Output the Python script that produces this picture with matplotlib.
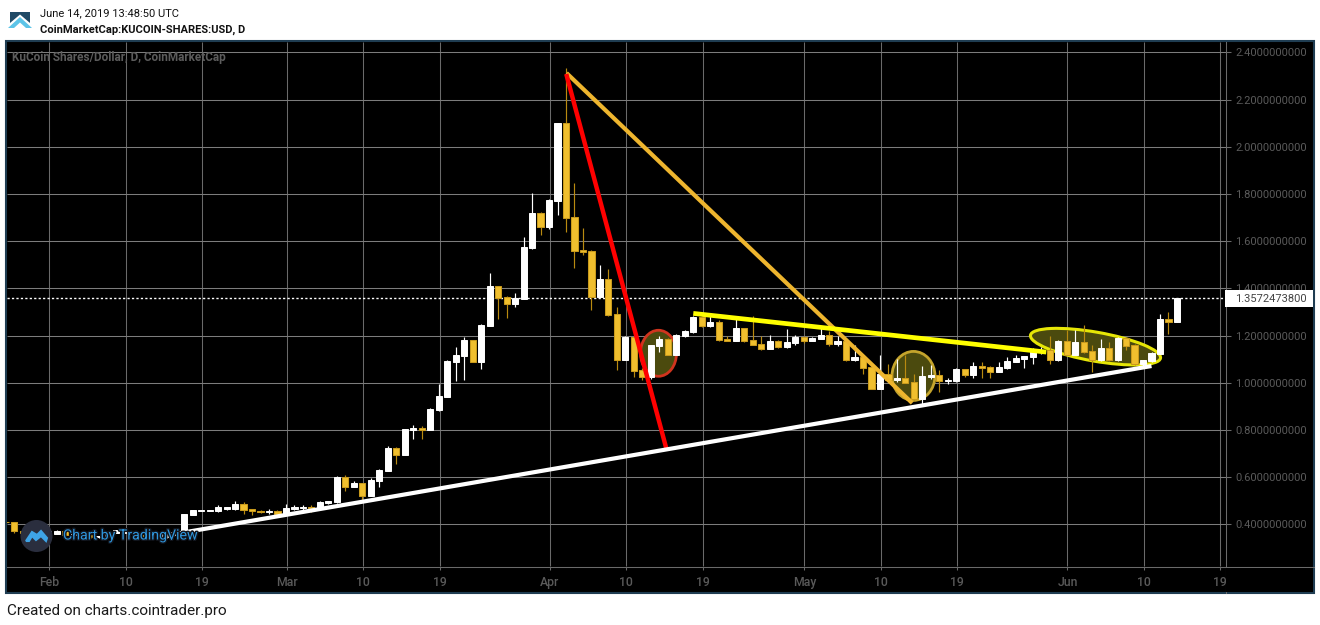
import matplotlib
matplotlib.use("Agg")
import matplotlib.pyplot as plt
import matplotlib.patheffects as pe
from matplotlib.patches import Ellipse, Rectangle, Polygon, Circle
from matplotlib.transforms import IdentityTransform

W, H = 1320, 625
plt.rcParams['font.family'] = ['Roboto', 'DejaVu Sans']

# ---- data: day number counted from Feb 1 2019, OHLC prices in USD
first_day = -5
opens = [.410,.408,.373,.362,.366,.362,.360,.372,.356,.359,.353,.345,.350,.365,.364,.370,.356,.350,.352,.345,.356,.369,.441,.458,.458,.456,.466,.465,.486,.463,.455,.451,.455,.442,.465,.469,.473,.464,.490,.495,.599,.558,.575,.520,.584,.626,.724,.694,.800,.808,.800,.885,.940,1.088,1.114,1.181,1.088,1.241,1.410,1.364,1.334,1.355,1.571,1.720,1.660,1.771,2.101,1.703,1.563,1.559,1.364,1.440,1.291,1.097,1.194,1.054,1.024,1.156,1.186,1.118,1.198,1.215,1.279,1.241,1.258,1.186,1.177,1.232,1.181,1.164,1.143,1.177,1.152,1.169,1.194,1.178,1.186,1.202,1.164,1.177,1.096,1.109,1.067,.974,1.037,1.012,1.020,1.003,.931,1.024,1.033,1.007,1.007,1.058,1.033,1.071,1.067,1.046,1.062,1.088,1.101,1.109,1.135,1.139,1.096,1.177,1.118,1.173,1.135,1.096,1.147,1.096,1.190,1.160,1.079,1.092,1.122,1.270,1.258]
highs = [.410,.408,.376,.368,.368,.374,.375,.374,.362,.360,.354,.351,.370,.377,.368,.371,.358,.360,.362,.362,.370,.445,.462,.461,.461,.483,.474,.499,.496,.463,.461,.465,.461,.485,.482,.481,.482,.500,.500,.605,.609,.584,.576,.596,.634,.732,.728,.806,.821,.817,.891,.995,1.097,1.152,1.194,1.183,1.247,1.465,1.412,1.368,1.380,1.618,1.804,1.722,1.777,2.103,2.334,1.847,1.656,1.561,1.499,1.482,1.321,1.198,1.196,1.063,1.162,1.198,1.188,1.207,1.224,1.283,1.281,1.292,1.266,1.198,1.283,1.234,1.283,1.198,1.202,1.181,1.228,1.202,1.198,1.194,1.232,1.219,1.198,1.179,1.160,1.111,1.069,1.118,1.079,1.101,1.118,1.037,1.071,1.075,1.054,1.020,1.062,1.060,1.088,1.088,1.069,1.088,1.109,1.118,1.115,1.147,1.152,1.198,1.181,1.224,1.224,1.245,1.160,1.185,1.173,1.194,1.194,1.164,1.098,1.130,1.292,1.300,1.3572]
lows = [.407,.365,.358,.358,.358,.360,.358,.352,.354,.352,.344,.344,.345,.364,.362,.360,.347,.347,.350,.343,.352,.366,.440,.457,.457,.452,.461,.460,.445,.441,.447,.444,.439,.439,.461,.458,.452,.462,.485,.490,.541,.556,.503,.518,.558,.624,.656,.692,.762,.762,.798,.880,.938,1.007,1.012,1.086,1.058,1.239,1.270,1.275,1.321,1.353,1.569,1.626,1.652,1.711,1.639,1.486,1.542,1.308,1.362,1.285,1.054,1.095,1.024,1.012,1.016,1.130,1.116,1.116,1.196,1.213,1.236,1.236,1.179,1.178,1.175,1.173,1.158,1.139,1.141,1.147,1.147,1.160,1.169,1.176,1.184,1.156,1.156,1.094,1.092,1.037,.972,.972,1.010,1.003,.997,.929,.906,1.016,.961,.995,1.005,1.024,1.020,1.020,1.020,1.044,1.060,1.086,1.062,1.079,1.122,1.079,1.094,1.116,1.116,1.128,1.046,1.094,1.094,1.092,1.139,1.077,1.071,1.090,1.120,1.207,1.256]
closes = [.408,.373,.362,.366,.362,.372,.372,.355,.360,.353,.346,.350,.365,.376,.368,.362,.350,.356,.358,.359,.367,.444,.461,.461,.460,.472,.472,.487,.462,.456,.451,.458,.444,.469,.473,.473,.471,.495,.499,.600,.558,.575,.520,.588,.630,.724,.694,.804,.808,.800,.889,.944,1.092,1.118,1.181,1.088,1.245,1.410,1.359,1.334,1.359,1.576,1.720,1.660,1.775,2.101,1.698,1.559,1.554,1.364,1.440,1.287,1.097,1.194,1.050,1.024,1.160,1.186,1.118,1.203,1.219,1.279,1.242,1.258,1.181,1.178,1.232,1.177,1.160,1.143,1.177,1.152,1.173,1.194,1.178,1.190,1.202,1.164,1.177,1.096,1.109,1.063,.974,1.037,1.012,1.020,.999,.931,1.029,1.033,1.007,1.012,1.058,1.033,1.071,1.062,1.046,1.067,1.092,1.105,1.113,1.139,1.139,1.096,1.177,1.118,1.173,1.130,1.096,1.147,1.096,1.190,1.156,1.079,1.096,1.126,1.270,1.258,1.3572]
last_price = 1.35724738

y_ticks = [.4,.6,.8,1.0,1.2,1.4,1.6,1.8,2.0,2.2,2.4]
x_ticks = [0,9,18,28,37,46,59,68,77,89,98,107,120,129,138]
x_labels = ['Feb','10','19','Mar','10','19','Apr','10','19','May','10','19','Jun','10','19']

# drawn annotations: trend lines as (day, price) pairs
white_line_days, white_line_prices = [13.14, 130.0], [.348, 1.071]
red_line_days, red_line_prices = [61.03, 72.84], [2.309, .719]
orange_line_days, orange_line_prices = [61.06, 101.8], [2.313, .914]
yellow_line_days, yellow_line_prices = [76.0, 117.6], [1.294, 1.130]
ellipse_centres = [(71.9, 1.125), (101.95, 1.029), (123.4, 1.153)]

UP, DOWN, DOWN_EDGE, WICK = '#ffffff', '#f0bf2e', '#c99a1c', '#b98a10'
GRID_H, GRID_V = '#7c7c7c', '#6a6a6a'
FRAME, TICKTXT = '#1f3d52', '#5a5a5a'

fig = plt.figure(figsize=(W/100, H/100), dpi=100, facecolor='white')

def px_axes(l, t, r, b):
    return [l/W, 1-b/H, (r-l)/W, (b-t)/H]

# page layer in pixel coordinates
bg = fig.add_axes([0, 0, 1, 1], zorder=0)
bg.set_xlim(0, W); bg.set_ylim(H, 0); bg.axis('off')
bg.add_patch(Rectangle((6, 41), 1308, 552, fc='black', ec=FRAME, lw=1.5))
bg.plot([7, 1313.5], [566.5, 566.5], color=GRID_V, lw=0.75)
bg.plot([1225.5, 1225.5], [42, 592.5], color=GRID_V, lw=0.75)
# header logo
bg.add_patch(Polygon([(10, 12), (30, 12), (30, 23), (20, 14.5), (10, 23)], fc='#1f4a66', ec='none'))
bg.add_patch(Polygon([(8, 28), (20, 17), (32, 28), (26, 28), (20, 22.5), (14, 28)], fc='#5cc4e8', ec='none'))

ax = fig.add_axes(px_axes(7, 42, 1225.5, 566), zorder=1)
ax.set_facecolor('none')
ax.set_xlim(-4.875, 138.72)
ax.set_ylim(.2232, 2.4445)
for s in ax.spines.values():
    s.set_visible(False)

tick_shift = 0.1
ax.set_xticks([t + tick_shift for t in x_ticks])
ax.set_xticklabels(x_labels, fontsize=8.8, color=TICKTXT, fontweight='medium')
ax.set_yticks(y_ticks)
ax.set_yticklabels([f'{t:.10f}' for t in y_ticks], fontsize=8.0, color=TICKTXT)
ax.yaxis.tick_right()
ax.tick_params(axis='x', length=3, width=0.75, color=GRID_V, pad=4.5)
ax.tick_params(axis='y', length=3.5, width=0.75, color=GRID_V, pad=3.5)
ax.grid(False)
ax.vlines([t + tick_shift for t in x_ticks], .2232, 2.4445, color=GRID_V, lw=0.75, zorder=1)
ax.hlines(y_ticks, -4.875, 138.72, color=GRID_H, lw=0.75, zorder=1)
ax.axhline(last_price, color='white', lw=1, dashes=(1.6, 1.6), zorder=2)

fig.canvas.draw()

def disp(pt):
    return ax.transData.transform(pt)

ell_styles = [
    (36, 46, 0, '#d0341e', 2.0),
    (43, 49, 0, '#c4a42c', 2.0),
    (132, 29, -10, '#e6e606', 2.2),
]
for centre, (w, h, ang, ec, lw) in zip(ellipse_centres, ell_styles):
    ax.add_patch(Ellipse(disp(centre), w, h, angle=ang, transform=IdentityTransform(),
                         fc='#4b4a0e', ec=ec, lw=lw, zorder=2.5, clip_on=False))

days = [first_day + i for i in range(len(opens))]
up_x = [d for d, o, c in zip(days, opens, closes) if c >= o]
dn_x = [d for d, o, c in zip(days, opens, closes) if c < o]
up_b = [o for o, c in zip(opens, closes) if c >= o]
up_h = [c - o for o, c in zip(opens, closes) if c >= o]
dn_b = [c for o, c in zip(opens, closes) if c < o]
dn_h = [o - c for o, c in zip(opens, closes) if c < o]
up_hi = [h for h, o, c in zip(highs, opens, closes) if c >= o]
up_lo = [l for l, o, c in zip(lows, opens, closes) if c >= o]
dn_hi = [h for h, o, c in zip(highs, opens, closes) if c < o]
dn_lo = [l for l, o, c in zip(lows, opens, closes) if c < o]

ax.vlines(up_x, up_lo, up_hi, color=UP, lw=0.85, zorder=3)
ax.vlines(dn_x, dn_lo, dn_hi, color=WICK, lw=0.85, zorder=3)
ax.bar(up_x, up_h, bottom=up_b, width=0.72, color=UP, edgecolor=UP, lw=0.7, zorder=4)
ax.bar(dn_x, dn_h, bottom=dn_b, width=0.72, color=DOWN, edgecolor=DOWN_EDGE, lw=0.75, zorder=4)

ax.plot(orange_line_days, orange_line_prices, color='#eeb52e', lw=3.0, zorder=5, solid_capstyle='butt')
ax.plot(yellow_line_days, yellow_line_prices, color='#ffff00', lw=3.4, zorder=5, solid_capstyle='butt')
ax.plot(red_line_days, red_line_prices, color='#ff0000', lw=3.2, zorder=5, solid_capstyle='butt')
ax.plot(white_line_days, white_line_prices, color='#ffffff', lw=3.0, zorder=5, solid_capstyle='butt')

# top overlay layer
ov = fig.add_axes([0, 0, 1, 1], zorder=2)
ov.set_xlim(0, W); ov.set_ylim(H, 0); ov.axis('off'); ov.patch.set_alpha(0)
ov.text(12, 57.5, 'KuCoin Shares/Dollar, D, CoinMarketCap', fontsize=8.5, color='#5c5c5c',
        fontweight='bold', va='center', ha='left')
ov.add_patch(Circle((36.5, 536), 16, fc='#2a2e3e', ec='none', zorder=5))
ov.add_patch(Polygon([(26, 541), (32, 532), (37, 535), (41, 531), (47, 538), (46, 541), (41, 536), (36, 540), (32, 536), (29, 541)],
                     fc='#3ea4e6', ec='#3ea4e6', lw=1.5, zorder=6))
ov.text(63, 535.5, 'Chart by TradingView', fontsize=10.2, color='#2f96dd', va='center', ha='left', zorder=6,
        path_effects=[pe.withStroke(linewidth=2, foreground='#10141c')])
# the last date label is cut off by the price scale
ov.add_patch(Rectangle((1226, 568), 87, 24, fc='black', ec='none', zorder=4))
ov.add_patch(Rectangle((1225, 290), 88, 16.7, fc='white', ec='none', zorder=7))
ov.text(1235, 298.6, f'{last_price:.10f}'[:12], fontsize=8.0, color='#444444', va='center', ha='left', zorder=8)

ov.text(40, 13, 'June 14, 2019 13:48:50 UTC', fontsize=8.0, color='#111111', va='center', ha='left')
ov.text(40, 30, 'CoinMarketCap:KUCOIN-SHARES:USD, D', fontsize=8.0, color='#111111', va='center', ha='left', fontweight='bold')
ov.text(7, 611, 'Created on charts.cointrader.pro', fontsize=11.0, color='#1a1a1a', va='center', ha='left')

fig.savefig('out.png', dpi=100, facecolor='white')
